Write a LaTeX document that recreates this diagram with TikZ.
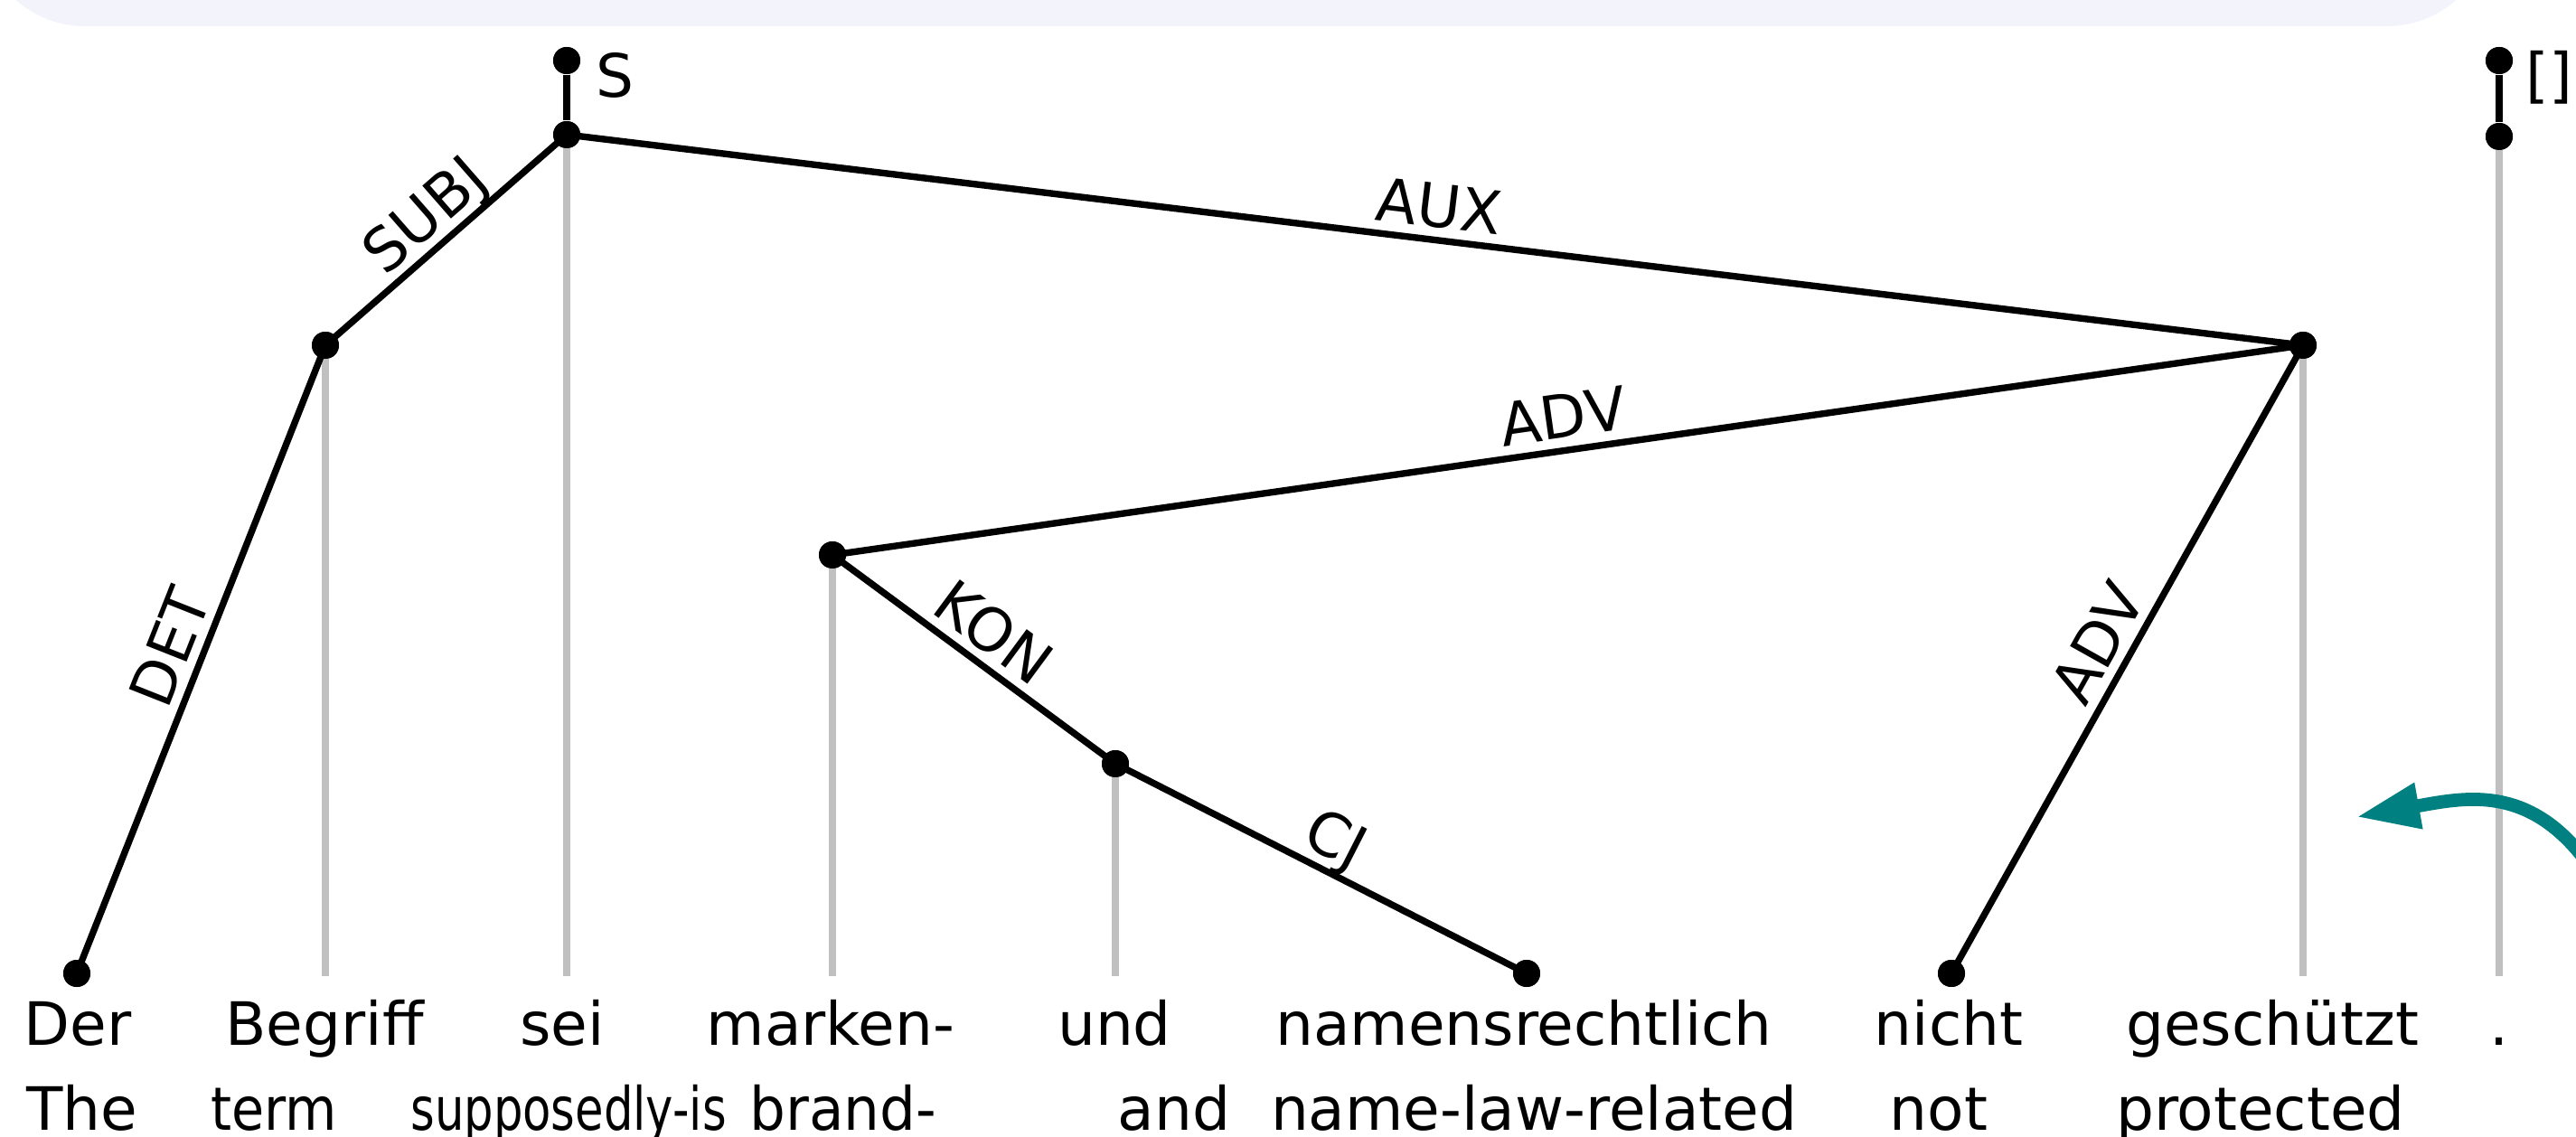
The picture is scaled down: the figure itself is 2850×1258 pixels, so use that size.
\documentclass[tikz,border=0pt]{standalone}
\usepackage{fontspec}
\setmainfont{DejaVu Sans}
\usetikzlibrary{arrows.meta}
\definecolor{bandcol}{RGB}{243,243,252}
\definecolor{tealcol}{RGB}{0,128,128}
\definecolor{guidecol}{RGB}{192,192,192}
\begin{document}
\begin{tikzpicture}[x=0.01cm,y=-0.01cm,
  dot/.style={circle,fill=black,inner sep=0pt,minimum size=0.3cm},
  edge/.style={line width=2.1pt,black},
  guide/.style={line width=2.3pt,guidecol},
  lab/.style={midway,sloped,above=0.1cm,inner sep=0pt,text height=0.73em,text depth=0pt,font=\fontsize{18.8}{22}\selectfont},
  word/.style={anchor=base,inner sep=0pt,font=\fontsize{18.8}{22}\selectfont},
  toplab/.style={anchor=base west,inner sep=0pt,font=\fontsize{18.8}{22}\selectfont}]
\useasboundingbox (0,0) rectangle (2850,1258);
\fill[bandcol,rounded corners=1.15cm] (-21,-300) rectangle (2756,29);
% nodes
\node[dot] (ntopS) at (627,67) {};
\node[dot] (nsei) at (627,149) {};
\node[dot] (nBeg) at (360,382) {};
\node[dot] (nDer) at (85,1077) {};
\node[dot] (nges) at (2548,382) {};
\node[dot] (nmark) at (921,614) {};
\node[dot] (nund) at (1234,845) {};
\node[dot] (nnam) at (1689,1077) {};
\node[dot] (nnicht) at (2159,1077) {};
\node[dot] (ntopP) at (2765,67) {};
\node[dot] (npt) at (2765,151) {};
% guide bottoms
\coordinate (gBeg) at (360,1080);
\coordinate (gsei) at (627,1080);
\coordinate (gmark) at (921,1080);
\coordinate (gund) at (1234,1080);
\coordinate (gges) at (2548,1080);
\coordinate (gpt) at (2765,1080);
\draw[guide] (nBeg.center) -- (gBeg);
\draw[guide] (nsei.center) -- (gsei);
\draw[guide] (nmark.center) -- (gmark);
\draw[guide] (nund.center) -- (gund);
\draw[guide] (nges.center) -- (gges);
\draw[guide] (npt.center) -- (gpt);
% edges
\draw[edge] (ntopS) -- (nsei);
\draw[edge] (ntopP) -- (npt);
\draw[edge] (nBeg.center) -- node[lab] {SUBJ} (nsei.center);
\draw[edge] (nDer.center) -- node[lab] {DET} (nBeg.center);
\draw[edge] (nsei.center) -- node[lab] {AUX} (nges.center);
\draw[edge] (nmark.center) -- node[lab] {ADV} (nges.center);
\draw[edge] (nmark.center) -- node[lab] {KON} (nund.center);
\draw[edge] (nund.center) -- node[lab] {CJ} (nnam.center);
\draw[edge] (nnicht.center) -- node[lab] {ADV} (nges.center);
% redraw dots on top
\foreach \n in {ntopS,nsei,nBeg,nDer,nges,nmark,nund,nnam,nnicht,ntopP,npt}
  \fill (\n.center) circle (0.15cm);
% top labels
\node[toplab] (lS) at (659,108) {S};
\node[toplab] (lP) at (2794,107) {[]};
% words
\node[word] (w1) at (86,1156) {Der};
\node[word] (w2) at (359,1156) {Begriff};
\node[word] (w3) at (622,1156) {sei};
\node[word] (w4) at (919,1156) {marken-};
\node[word] (w5) at (1233,1156) {und};
\node[word] (w6) at (1686,1156) {namensrechtlich};
\node[word] (w7) at (2156,1156) {nicht};
\node[word] (w8) at (2514,1156) {geschützt};
\node[word] (w9) at (2765,1156) {.};
\node[word] (g1) at (91,1250) {The};
\node[word,xscale=0.89] (g2) at (303,1250) {term};
\node[word,xscale=0.775] (g3) at (629,1250) {supposedly-is};
\node[word,xscale=0.95] (g4) at (933,1250) {brand-};
\node[word] (g5) at (1299,1250) {and};
\node[word] (g6) at (1697,1250) {name-law-related};
\node[word] (g7) at (2145,1250) {not};
\node[word] (g8) at (2501,1250) {protected};
% teal arrow
\coordinate (astart) at (2905,1030);
\coordinate (atip) at (2607,904);
\draw[tealcol,line width=4.2pt,-{Triangle[length=0.7cm,width=0.48cm]}] (astart) .. controls (2830,860) and (2740,880) .. (atip);
\end{tikzpicture}
\end{document}
